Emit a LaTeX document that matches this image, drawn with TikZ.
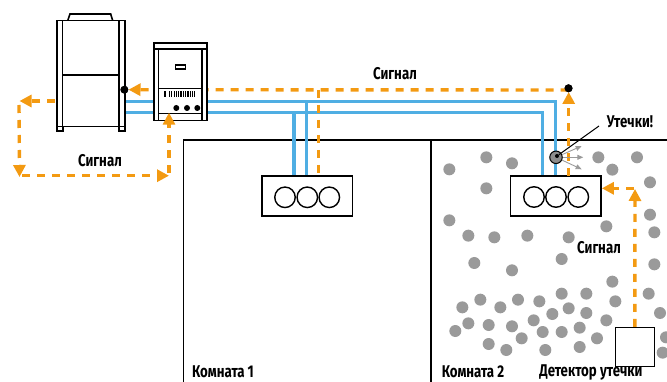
\documentclass[tikz,border=0pt]{standalone}
\usepackage{fontspec}
\setmainfont[FakeStretch=0.78]{Fira Sans}
\usetikzlibrary{arrows.meta}
\definecolor{sig}{HTML}{F39A12}
\definecolor{pipe}{HTML}{4FAEE3}
\definecolor{drop}{HTML}{9A9A9A}
\tikzset{
 pipeline/.style={draw=pipe,line width=3.4pt},
 signal/.style={draw=sig,line width=3.4pt,dash pattern=on 8pt off 7pt},
 signalarrow/.style={signal,-{Triangle[length=12pt,width=12pt,fill=sig,sep=0pt]}},
 wall/.style={draw=black,line width=1.3pt},
 unitbox/.style={draw=black,fill=white,line width=1.6pt,minimum width=90.5pt,minimum height=40pt,inner sep=0pt},
 fan/.style={circle,draw=black,fill=white,line width=1.4pt,minimum size=20.5pt,inner sep=0pt},
 lbl/.style={font=\bfseries\fontsize{17}{19}\selectfont,text=black,inner sep=0pt},
 dropdot/.style={circle,fill=drop,minimum size=12pt,inner sep=0pt},
 part/.style={draw=black,line width=1.6pt,fill=white},
 blackdot/.style={circle,fill=black,minimum size=8pt,inner sep=0pt},
 knob/.style={circle,fill=black,minimum size=6pt,inner sep=0pt},
 led/.style={fill=black,minimum width=1.2pt,minimum height=1.6pt,inner sep=0pt},
 leakarrow/.style={draw=drop,line width=.9pt,-{Triangle[length=6pt,width=5pt,fill=drop]}},
}
\begin{document}
\begin{tikzpicture}[x=1pt,y=-1pt]
\useasboundingbox (0,0) rectangle (667,382);
% walls
\draw[wall] (183.7,382) -- (183.7,140) -- (667,140);
\draw[wall] (431,140) -- (431,382);
% leak droplets
\foreach \x/\y [count=\i] in {58/88,169/52,246/70,169/145,58/241,115/287,193/292,292/287,416/292,133/369,246/391,395/357,505/52,621/52,547/89,660/127,529/259,660/224,673/277,673/373,547/425,656/461,556/484,690/519,395/461,469/461,328/484,264/479,151/479,97/502,211/502,416/505,367/522,469/519,311/541,529/541,115/550,76/573,176/555,246/559,338/576,395/576,449/563,275/595,501/595,176/612,229/630,346/630,449/621,698/638,708/592}
 \node[dropdot] (d\i) at ({430+\x/3},{140+\y/3}) {};
% coordinates
\coordinate (pu) at (125,101.3);
\coordinate (pl) at (125,112.8);
\coordinate (pur) at (555.7,101.3);
\coordinate (plr) at (542.3,112.8);
\coordinate (b1u) at (306.7,101.3);
\coordinate (b1l) at (294,112.8);
% pipes
\draw[pipeline] (pu) -- (pur) -- (555.7,177);
\draw[pipeline] (pl) -- (plr) -- (542.3,177);
\draw[pipeline] (b1u) -- (306.7,177);
\draw[pipeline] (b1l) -- (294,177);
% indoor units
\node[unitbox] (u1) at (307.3,196) {};
\node[fan] (f11) at (285,197.3) {};
\node[fan] (f12) at (307.3,197.3) {};
\node[fan] (f13) at (329.3,197.3) {};
\node[unitbox] (u2) at (555.8,196.3) {};
\node[fan] (f21) at (534,197) {};
\node[fan] (f22) at (556,197) {};
\node[fan] (f23) at (578.3,197) {};
% signal top
\node[blackdot] (dr) at (568.5,88.3) {};
\node[blackdot] (dl) at (124.3,89.7) {};
\coordinate (tc) at (568.5,90);
\draw[signalarrow] (tc) -- (dl);
\draw[signal] (318.7,90) -- (318.7,176);
\draw[signalarrow] (568.7,176) -- (568.7,92);
\node[blackdot] at (dr) {};
% outdoor unit
\draw[part] (67.7,20.7) -- (70,14) -- (110.7,14) -- (112.7,20.7);
\draw[part] (56.7,20.7) rectangle (125,126.7);
\draw[part] (56.7,126.7) -- (56.7,131) -- (62.7,131) -- (62.7,126.7);
\draw[part] (119,126.7) -- (119,131) -- (125,131) -- (125,126.7);
\draw[draw=black,line width=1.5pt] (62.7,20.7) -- (62.7,126.7) (119,20.7) -- (119,126.7) (62.7,75) -- (119,75);
\node[blackdot] (dl2) at (124.3,89.7) {};
% controller
\draw[part] (154,43.3) rectangle (206.7,120.7);
\draw[draw=black,line width=1.5pt] (154,49) -- (206.7,49) (158.7,49) -- (158.7,120.7) (202,49) -- (202,120.7) (158.7,88.3) -- (202,88.3) (158.7,113.3) -- (202,113.3);
\draw[draw=black,line width=1.2pt] (175.7,65) rectangle (185.3,69);
\foreach \y in {92,94,96}{
 \node[led] at (165,\y) {};
 \foreach \k in {0,...,11}{\node[led] at ({169.5+\k*2.3},\y) {};}
}
\node[knob] (k1) at (176.3,108) {};
\node[knob] (k2) at (187,108) {};
\node[knob] (k3) at (197.3,108) {};
% left signal loop
\coordinate (a) at (55,101);
\coordinate (b) at (19.5,101);
\coordinate (c) at (19.5,177);
\coordinate (e) at (169,175.7);
\coordinate (g) at (169,112.7);
\draw[signalarrow] (a) -- (b);
\draw[signalarrow] (19,105) -- (c);
\draw[signalarrow] (22,175.7) -- (e);
\draw[signalarrow] (169,173) -- (g);
% leak sensor
\node[circle,draw=black,fill=gray!90,line width=1pt,minimum size=12.5pt,inner sep=0pt] (ls) at (556,157.3) {};
\coordinate (l1) at (581.7,146);
\coordinate (l2) at (583.3,157.3);
\coordinate (l3) at (581.7,169.3);
\draw[leakarrow] (ls) -- (l1);
\draw[leakarrow] (ls) -- (l2);
\draw[leakarrow] (ls) -- (l3);
\node[circle,fill=black,minimum size=4pt,inner sep=0pt] (lc) at (557,156) {};
% detector
\node[draw=black,fill=white,line width=1.5pt,minimum size=39pt,inner sep=0pt] (det) at (634.8,347.2) {};
\draw[signalarrow] (det.north) -- (635,189);
\draw[signalarrow] (634,188.3) -- (u2.east |- 0,188.3);
% labels
\node[lbl] (ltop) at (395,74) {Сигнал};
\node[lbl] (lleft) at (100,161) {Сигнал};
\node[lbl] (lright) at (599,248) {Сигнал};
\node[lbl] (lleak) at (630,122) {Утечки!};
\node[lbl] (r1) at (223,371.5) {Комната 1};
\node[lbl] (r2) at (473,371.5) {Комната 2};
\node[lbl] (ld) at (591,372.5) {Детектор утечки};
\draw[draw=black,line width=1pt] (lc) -- (599,126);
\end{tikzpicture}
\end{document}
